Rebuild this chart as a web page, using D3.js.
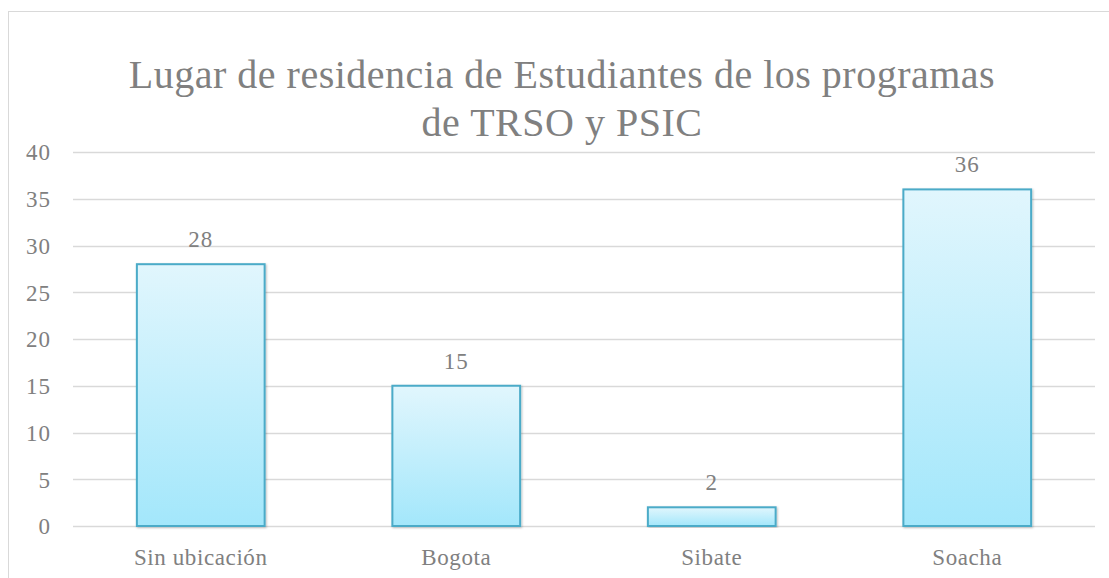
<!DOCTYPE html>
<html>
<head>
<meta charset="utf-8">
<script src="https://cdn.jsdelivr.net/npm/d3@7"></script>
<style>
  body { margin: 0; background: #fff; }
  text { font-family: "Liberation Serif", "DejaVu Serif", serif; fill: #808080; }
</style>
</head>
<body>
<div id="graphicContainer"></div>
<script>
const categories = ["Sin ubicación", "Bogota", "Sibate", "Soacha"]
const values = [28, 15, 2, 36]
const yTicks = [0, 5, 10, 15, 20, 25, 30, 35, 40]
const titleLines = ["Lugar de residencia de Estudiantes de los programas", "de TRSO y PSIC"]

const width = 1109
const height = 578
const marginleft = 73
const marginright = 14
const margintop = 152
const marginbottom = 52

const svg = d3.select("#graphicContainer").append("svg")
  .attr("width", width)
  .attr("height", height)

const defs = svg.append("defs")

const grad = defs.append("linearGradient")
  .attr("id", "barGrad")
  .attr("x1", 0).attr("y1", 0).attr("x2", 0).attr("y2", 1)
grad.append("stop").attr("offset", "0%").attr("stop-color", "#e1f6fd")
grad.append("stop").attr("offset", "100%").attr("stop-color", "#a3e7fb")

const shadow = defs.append("filter").attr("id", "shadow")
  .attr("x", "-10%").attr("y", "-10%").attr("width", "120%").attr("height", "120%")
shadow.append("feDropShadow")
  .attr("dx", 1).attr("dy", 1).attr("stdDeviation", 1.2)
  .attr("flood-color", "#000").attr("flood-opacity", 0.25)

// chart frame
svg.append("rect")
  .attr("x", 8.5).attr("y", 11.5)
  .attr("width", width + 20).attr("height", height + 20)
  .attr("fill", "none")
  .attr("stroke", "#d9d9d9")

// title
svg.append("g").selectAll("text")
  .data(titleLines)
  .enter()
  .append("text")
  .attr("x", 562)
  .attr("y", (d, i) => 88 + i * 48)
  .attr("text-anchor", "middle")
  .style("font-size", "40px")
  .style("letter-spacing", "0.5px")
  .text(d => d)

const x = d3.scaleBand()
  .domain(categories)
  .range([marginleft, width - marginright])
  .paddingInner(0.5)
  .paddingOuter(0.25)

const y = d3.scaleLinear()
  .domain([0, 40])
  .range([height - marginbottom, margintop])

// gridlines
svg.append("g")
  .selectAll("line")
  .data(yTicks)
  .enter()
  .append("line")
  .attr("x1", marginleft)
  .attr("x2", width - marginright)
  .attr("y1", d => Math.round(y(d)) + 0.5)
  .attr("y2", d => Math.round(y(d)) + 0.5)
  .attr("stroke", "#d9d9d9")
  .attr("stroke-width", 1.3)

// y axis labels
const yAxis = d3.axisLeft(y).tickValues(yTicks).tickSize(0).tickPadding(0)
svg.append("g")
  .attr("class", "axis y")
  .attr("transform", `translate(51, 0)`)
  .call(yAxis)
  .call(g => g.select(".domain").remove())
  .selectAll(".tick text")
  .attr("fill", "#808080")
  .attr("dy", "0.34em")
  .style("font-size", "23px")
  .style("letter-spacing", "1px")
  .style("font-family", "Liberation Serif, serif")

// bars
svg.append("g")
  .selectAll("rect")
  .data(values)
  .enter()
  .append("rect")
  .attr("x", (d, i) => x(categories[i]))
  .attr("y", d => y(d))
  .attr("width", x.bandwidth())
  .attr("height", d => y(0) - y(d))
  .attr("fill", "url(#barGrad)")
  .attr("stroke", "#4babc8")
  .attr("stroke-width", 2)
  .attr("filter", "url(#shadow)")

// data labels
svg.append("g")
  .selectAll("text")
  .data(values)
  .enter()
  .append("text")
  .attr("x", (d, i) => x(categories[i]) + x.bandwidth() / 2)
  .attr("y", d => y(d) - 17)
  .attr("text-anchor", "middle")
  .style("font-size", "23px")
  .style("letter-spacing", "1px")
  .text(d => d)

// x axis labels
const xAxis = d3.axisBottom(x).tickSize(0).tickPadding(0)
svg.append("g")
  .attr("class", "axis x")
  .attr("transform", `translate(0, ${y(0)})`)
  .call(xAxis)
  .call(g => g.select(".domain").remove())
  .selectAll(".tick text")
  .attr("fill", "#808080")
  .attr("y", 39)
  .attr("dy", null)
  .style("font-size", "23px")
  .style("letter-spacing", "0.6px")
  .style("font-family", "Liberation Serif, serif")
</script>
</body>
</html>
